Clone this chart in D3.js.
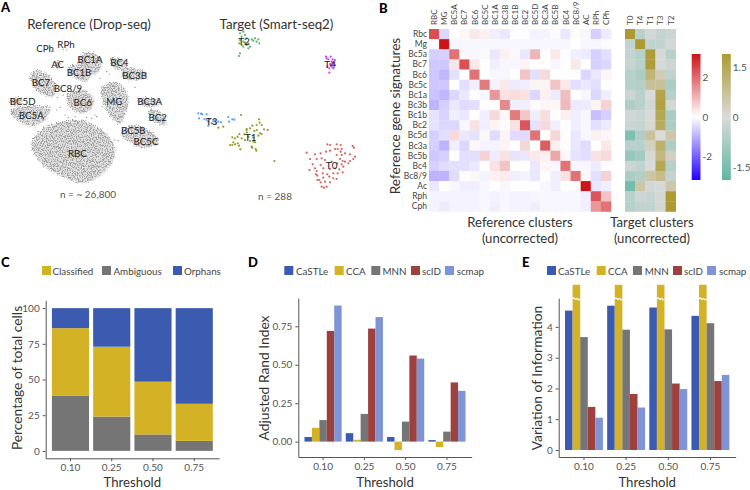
<!DOCTYPE html>
<html>
<head>
<meta charset="utf-8">
<script src="https://cdn.jsdelivr.net/npm/d3@7"></script>
<style>
  body { margin: 0; background: #fff; }
  text { font-family: Lato, "Open Sans", sans-serif; }
  .axis path, .axis line { stroke: #555; }
  .axis text { fill: #555; font-size: 10px; }
</style>
</head>
<body>
<div id="chart"></div>
<script>
// panel C / D / E data
const thresholds = ["0.10", "0.25", "0.50", "0.75"];
const ambiguous = [38.5, 24, 11.5, 7];
const classified = [47.5, 49, 37, 26];
const orphans = [14, 27, 51.5, 67];

const methods = ["CaSTLe", "CCA", "MNN", "scID", "scmap"];
const ariCastle = [0.03, 0.055, 0.03, 0.01];
const ariCca = [0.09, 0.012, -0.055, -0.035];
const ariMnn = [0.14, 0.18, 0.13, 0.065];
const ariScid = [0.72, 0.735, 0.56, 0.385];
const ariScmap = [0.885, 0.81, 0.54, 0.33];

const viCastle = [4.53, 4.69, 4.63, 4.36];
const viCca = [5.37, 5.37, 5.37, 5.37]; // off the axis, bars are cut
const viMnn = [3.67, 3.91, 3.92, 4.12];
const viScid = [1.4, 1.82, 2.16, 2.24];
const viScmap = [1.05, 1.38, 1.98, 2.44];

// panel B data
const refRows = ["Rbc","Mg","Bc5a","Bc7","Bc6","Bc5c","Bc1a","Bc3b","Bc1b","Bc2","Bc5d","Bc3a","Bc5b","Bc4","Bc8/9","Ac","Rph","Cph"];
const refCols = ["RBC","MG","BC5A","BC7","BC6","BC5C","BC1A","BC3B","BC1B","BC2","BC5D","BC3A","BC5B","BC4","BC8/9","AC","RPh","CPh"];
const targetCols = ["T0","T4","T1","T3","T2"];
const refMatrix = [
  [2.4,-.5,.03,.1,.3,.2,-.2,-.3,-.03,-.03,-.15,-.15,.05,-.3,.05,-.1,-.6,-.25],
  [-.05,3.2,-.1,-.1,-.1,-.1,-.1,-.1,-.1,-.1,-.1,-.1,-.1,-.1,0,-.1,-.1,-.05],
  [-.6,-.6,1.9,.1,-.1,.1,-.3,.2,-.08,-.3,1,.02,.3,-.02,-.2,-.25,-.6,-.4],
  [-.7,-.7,.35,2.4,.3,.02,-.2,-.1,-.1,.15,.02,.02,-.1,.02,.3,.02,-.6,-.5],
  [-.7,-.9,-.4,.02,1.9,.02,-.1,-.1,.02,.8,-.4,.5,.02,.02,.02,-.5,-.3,.15],
  [-.7,-.7,.02,-.4,-.2,1.8,-.15,.3,-.25,-.2,.15,.15,.8,.3,-.4,-.3,-.4,.02],
  [-.75,-.9,-.5,-.3,-.03,-.1,1.4,.4,.45,.4,-.5,.2,-.25,.9,.02,-.1,-.5,-.2],
  [-.95,-.6,-.3,-.45,-.4,.02,.02,1.6,-.2,-.2,-.05,.12,.12,.95,-.25,-.25,.15,.6],
  [-.35,-.55,-.2,-.3,.02,-.2,.5,.1,1.8,.75,-.2,.45,.02,.2,-.2,-.1,-.8,-.6],
  [-.35,-.5,-.5,-.1,.4,-.2,.15,.02,.4,2.3,-.35,.5,-.2,.02,-.2,-.1,-.4,-.25],
  [-.6,-.4,.5,-.3,-.35,.1,-.45,.15,-.45,-.45,1.9,.02,.55,.02,-.3,-.1,.2,.12],
  [-.6,-.95,-.2,-.5,.1,-.15,-.15,.15,.02,.55,.02,2.2,.2,.02,-.3,-.45,.02,.3],
  [-.7,-.6,.02,-.4,-.4,.6,-.25,.4,-.35,-.3,.3,.2,1.2,.1,-.35,-.4,.4,.5],
  [-.6,-.45,-.4,-.4,-.3,.02,.4,.8,.02,.02,-.3,.15,-.1,1.9,-.1,-.1,-.25,-.02],
  [-.95,-.95,-.45,.02,.1,-.15,.2,.25,-.2,-.15,-.3,.02,-.2,.4,1.9,.1,-.4,.6],
  [-.3,.02,-.1,-.2,-.2,-.1,.02,-.1,.01,.01,.01,-.1,-.2,.01,.01,3.2,-.3,-.2],
  [-.15,-.15,-.15,-.15,-.15,-.1,-.15,-.1,-.15,-.15,-.12,-.1,-.1,-.1,-.1,-.2,2.3,.8],
  [-.15,-.25,-.15,-.15,-.15,-.1,-.2,-.1,-.15,-.15,-.2,-.1,-.1,-.1,-.1,-.2,1.4,1.9]
];
const targetMatrix = [
  [1.9,-.5,-.1,-.35,-.25],
  [-.4,1.9,-.4,-.4,-.1],
  [-.35,-.55,1.8,-.05,-.5],
  [-.3,-.5,1.8,-.05,-.2],
  [-.55,-.7,1.1,.4,-.4],
  [-.55,-.6,.75,.75,-.7],
  [-.25,-.5,0,1.6,-.55],
  [-.65,-.5,-.1,1.7,-.1],
  [-.15,-.25,-.05,1.5,-.75],
  [-.25,-.3,.1,1.4,-.7],
  [-1.4,-.65,.7,0,.55],
  [-.5,-.55,.3,1.2,-.7],
  [-1.05,-.85,.05,1,.3],
  [-.2,-.4,0,1.5,-.55],
  [-.7,-.6,.6,.9,-.35],
  [-1.6,.6,-.1,-.05,.55],
  [-.5,-.2,-.3,-.1,1.9],
  [-.55,-.4,-.4,-.1,1.9]
];

// panel A, outlines of the dense reference clusters, in units
const blobRBC = [[95,430],[130,385],[190,365],[250,362],[300,385],[335,420],[345,470],[320,510],[280,540],[240,550],[190,530],[140,505],[105,465]];
const blobMG = [[305,265],[325,248],[355,250],[380,275],[385,310],[375,345],[360,372],[335,355],[315,320],[303,290]];
const blobBC6 = [[200,290],[225,270],[260,275],[282,300],[270,330],[240,340],[210,320]];
const blobBC7 = [[90,225],[115,212],[145,225],[170,265],[160,290],[130,285],[100,260]];
const blobBC5A = [[30,330],[70,318],[120,318],[150,325],[140,355],[105,378],[65,370],[40,350]];
const blobBC5D = [[28,300],[50,293],[70,300],[60,315],[35,315]];
const blobBC1A = [[235,175],[265,155],[300,175],[305,200],[280,225],[245,215]];
const blobBC1B = [[205,200],[240,195],[270,225],[260,245],[225,235],[205,220]];
const blobBC4 = [[330,175],[355,175],[385,195],[370,212],[345,205]];
const blobBC3B = [[365,215],[395,205],[440,220],[435,235],[390,240],[370,235]];
const blobBC3A = [[415,298],[450,295],[485,305],[470,318],[430,318]];
const blobBC2 = [[445,335],[470,330],[498,360],[495,375],[465,368]];
const blobBC5BC = [[365,395],[400,375],[470,410],[475,430],[430,445],[395,430],[370,415]];
const blobAC = [[163,190],[178,183],[182,200],[170,208]];
const refBlobs = [blobRBC,blobMG,blobBC6,blobBC7,blobBC5A,blobBC5D,blobBC1A,blobBC1B,blobBC4,blobBC3B,blobBC3A,blobBC2,blobBC5BC,blobAC];
const refStray = [[195,345],[205,352],[218,358],[290,350],[275,355],[170,330],[180,322],[225,350],[320,215],[328,222],[410,240],[150,150],[155,155],[190,148],[200,150],[165,250],[180,270],[190,285],[172,292],[345,420],[355,422],[285,345],[260,352],[405,262],[300,235]];
const refLabels = ["CPh","RPh","AC","BC1A","BC4","BC1B","BC3B","BC7","BC8/9","BC6","MG","BC3A","BC5D","BC5A","BC2","BC5B","BC5C","RBC"];
const refLabelX = [135,198,173,270,358,237,404,123,204,248,343,449,68,94,473,400,438,232];
const refLabelY = [145,133,193,177,187,217,225,246,265,306,302,303,302,344,352,391,423,458];

// panel A, target cells
const cellsT0 = [[412,433],[420,435],[440,433],[452,435],[488,438],[492,443],[350,458],[375,463],[392,460],[408,455],[420,452],[435,447],[443,447],[455,447],[452,455],[360,477],[380,477],[395,475],[405,480],[440,465],[455,465],[465,460],[480,463],[495,470],[490,477],[480,483],[475,490],[368,493],[392,495],[450,477],[458,483],[465,485],[442,490],[358,510],[375,505],[380,513],[400,505],[420,507],[435,505],[448,508],[460,500],[378,523],[382,527],[398,520],[412,523],[430,520],[443,520],[458,517],[388,540],[418,530],[430,535],[440,537],[400,533],[395,560],[402,563],[410,560],[420,547],[392,547],[405,545],[382,540],[455,493],[425,485],[233,390]];
const cellsT1 = [[153,345],[207,358],[209,368],[187,377],[200,375],[215,375],[222,388],[170,390],[180,385],[200,390],[170,397],[193,393],[210,400],[148,402],[163,403],[143,410],[127,412],[135,415],[155,415],[175,410],[190,413],[205,407],[130,427],[143,430],[135,433],[120,435],[127,435],[147,437],[165,420],[180,423],[190,425],[195,427],[185,440],[187,443],[197,447],[199,452],[151,448],[100,380],[85,383],[253,483],[215,402],[170,387]];
const cellsT2 = [[150,100],[160,95],[165,105],[155,110],[170,115],[150,120],[148,130],[160,125],[175,130],[185,118],[195,115],[205,118],[208,130],[200,125],[180,140],[170,135],[160,140],[150,160],[147,168],[175,145],[190,122],[165,128],[155,135]];
const cellsT3 = [[25,340],[33,341],[37,343],[27,355],[50,343],[43,357],[50,360],[60,357],[55,365],[55,377],[70,363],[77,370],[85,365],[93,367],[115,351],[117,365],[127,358],[133,359],[65,370],[75,360]];
const cellsT4 = [[408,170],[422,170],[415,178],[425,185],[435,180],[430,190],[420,192],[435,195],[425,200],[430,205],[418,205],[412,200],[418,218],[410,175],[428,178],[433,188],[422,197],[428,195]];
const targetCells = [cellsT0, cellsT1, cellsT2, cellsT3, cellsT4];
const targetNames = ["T0","T1","T2","T3","T4"];
const targetColors = ["#d9625c","#9a9a1e","#55b56c","#5a9ef5","#c04ae8"];
const targetLabelX = [425,182,162,65,420];
const targetLabelY = [494,412,124,362,192];

const yellow = "#d4b226", grey = "#757575", blue = "#3a5bb0", red = "#9e403d", lightBlue = "#7f94d6";
const methodColors = [blue, yellow, grey, red, lightBlue];

const svg = d3.select("#chart").append("svg").attr("width", 750).attr("height", 490);

// speckle for the dense clouds, edges roughened with the same noise
const defs = svg.append("defs");
const speckle = defs.append("filter").attr("id", "speckle")
  .attr("x", "-5%").attr("y", "-5%").attr("width", "110%").attr("height", "110%");
speckle.append("feTurbulence").attr("type", "fractalNoise").attr("baseFrequency", 0.8)
  .attr("numOctaves", 2).attr("seed", 4).attr("result", "noise");
speckle.append("feDisplacementMap").attr("in", "SourceGraphic").attr("in2", "noise")
  .attr("scale", 7).attr("xChannelSelector", "R").attr("yChannelSelector", "G").attr("result", "rough");
speckle.append("feColorMatrix").attr("in", "noise").attr("type", "matrix")
  .attr("values", "0 0 0 0 0.35  0 0 0 0 0.35  0 0 0 0 0.35  4 4 0 0 -3.7").attr("result", "dots");
speckle.append("feComposite").attr("in", "dots").attr("in2", "rough").attr("operator", "in").attr("result", "clipped");
speckle.append("feMerge").call(m => {
  m.append("feMergeNode").attr("in", "rough");
  m.append("feMergeNode").attr("in", "clipped");
});

function panelLetter(s, x, y) {
  svg.append("text").attr("x", x).attr("y", y).text(s)
    .style("font-size", "13px").style("font-weight", 900).style("fill", "#000");
}
panelLetter("A", 1, 12);
panelLetter("B", 379, 13);
panelLetter("C", 1, 267);
panelLetter("D", 248, 267);
panelLetter("E", 522, 267);

function plainText(s, x, y, size, color) {
  return svg.append("text").attr("x", x).attr("y", y).attr("text-anchor", "middle")
    .attr("dominant-baseline", "central")
    .text(s).style("font-size", size + "px").style("fill", color);
}

// ---- A: reference
const xRef = d3.scaleLinear().domain([0, 570]).range([0, 190]);
const yRef = d3.scaleLinear().domain([0, 630]).range([0, 210]);
const blobLine = d3.line().x(d => xRef(d[0])).y(d => yRef(d[1])).curve(d3.curveCatmullRomClosed);

const cloud = svg.append("g").attr("filter", "url(#speckle)");
cloud.selectAll("path").data(refBlobs).join("path")
  .attr("d", blobLine)
  .attr("fill", "#e2e2e2");
svg.append("g").selectAll("circle").data(refStray).join("circle")
  .attr("cx", d => xRef(d[0])).attr("cy", d => yRef(d[1])).attr("r", 0.6).attr("fill", "#777");

refLabels.forEach((s, i) => plainText(s, xRef(refLabelX[i]), yRef(refLabelY[i]), 9.7, "#222"));
plainText("Reference (Drop-seq)", 89, 24, 13.3, "#333");
plainText("n = ~ 26,800", 88, 194, 10, "#555");

// ---- A: target
const xTarget = d3.scaleLinear().domain([0, 570]).range([190, 380]);
targetCells.forEach((cells, i) => {
  svg.append("g").selectAll("circle").data(cells).join("circle")
    .attr("cx", d => xTarget(d[0])).attr("cy", d => yRef(d[1]))
    .attr("r", 1.1).attr("fill", targetColors[i]);
  plainText(targetNames[i], xTarget(targetLabelX[i]), yRef(targetLabelY[i]), 10, "#222");
});
plainText("Target (Smart-seq2)", 276.5, 24, 13.3, "#333");
plainText("n = 288", 275, 196, 10, "#555");

// ---- B: heatmaps
const refColor = d3.scaleLinear().domain([-3.2, 0, 3.2]).range(["#2200ff", "#ffffff", "#cc1418"]);
const targetColor = d3.scaleLinear().domain([-1.89, 0, 1.89]).range(["#5fb8a2", "#dadada", "#ad9a33"]);

const yHeat = d3.scaleBand().domain(refRows).range([29, 211.5]);
const xHeat = d3.scaleBand().domain(refCols).range([429, 611]);
const xHeatT = d3.scaleBand().domain(targetCols).range([625, 675.7]);

function heatmap(matrix, cols, xs, color) {
  matrix.forEach((row, r) => {
    svg.append("g").selectAll("rect").data(row).join("rect")
      .attr("x", (d, c) => xs(cols[c]))
      .attr("y", yHeat(refRows[r]))
      .attr("width", xs.bandwidth() + 0.3)
      .attr("height", yHeat.bandwidth() + 0.3)
      .attr("fill", d => color(d));
  });
  svg.append("g").selectAll("text").data(cols).join("text")
    .attr("transform", d => "translate(" + (xs(d) + xs.bandwidth() / 2 + 3) + ",25) rotate(-90)")
    .text(d => d).style("font-size", "8px").style("fill", "#444");
}
heatmap(refMatrix, refCols, xHeat, refColor);
heatmap(targetMatrix, targetCols, xHeatT, targetColor);

svg.append("g").selectAll("text").data(refRows).join("text")
  .attr("x", 427).attr("y", d => yHeat(d) + yHeat.bandwidth() / 2)
  .attr("text-anchor", "end").attr("dominant-baseline", "central")
  .text(d => d).style("font-size", "8.5px").style("fill", "#444");

svg.append("text").attr("transform", "translate(395,116) rotate(-90)")
  .attr("text-anchor", "middle").attr("dominant-baseline", "central")
  .text("Reference gene signatures").style("font-size", "13.6px").style("fill", "#333");
plainText("Reference clusters", 520, 222, 13.1, "#333");
plainText("(uncorrected)", 520, 238, 13.1, "#333");
plainText("Target clusters", 652, 222, 13.1, "#333");
plainText("(uncorrected)", 652, 238, 13.1, "#333");

// colour bars
function colorBar(id, color, maxV, x, ticks) {
  const yBar = d3.scaleLinear().domain([-maxV, maxV]).range([180, 54]);
  const grad = defs.append("linearGradient").attr("id", id)
    .attr("x1", 0).attr("y1", 1).attr("x2", 0).attr("y2", 0);
  color.domain().forEach((v, i) => {
    grad.append("stop").attr("offset", (i / 2) * 100 + "%").attr("stop-color", color(v));
  });
  svg.append("rect").attr("x", x).attr("y", 54).attr("width", 8.8).attr("height", 126)
    .attr("fill", "url(#" + id + ")");
  const ax = svg.append("g").attr("class", "axis")
    .attr("transform", "translate(" + (x + 8.8) + ",0)")
    .call(d3.axisRight(yBar).tickValues(ticks).tickSize(0).tickPadding(2).tickFormat(d => String(d)));
  ax.select(".domain").remove();
}
colorBar("barRef", refColor, 3.2, 691.7, [-2, 0, 2]);
colorBar("barTarget", targetColor, 1.89, 722, [-1.5, 0, 1.5]);

// ---- shared for the bar panels
function legend(names, colors, swatchX, textX) {
  names.forEach((s, i) => {
    svg.append("rect").attr("x", swatchX[i]).attr("y", 266).attr("width", 9).attr("height", 9).attr("fill", colors[i]);
    svg.append("text").attr("x", textX[i]).attr("y", 270.5).attr("dominant-baseline", "central")
      .text(s).style("font-size", "9.8px").style("fill", "#444");
  });
}

function axes(x, y, bottom, left, yTicks, fmt, yTitle, titleX) {
  svg.append("g").attr("class", "axis").attr("transform", "translate(0," + bottom + ")")
    .call(d3.axisBottom(x).tickSize(3).tickSizeOuter(0));
  svg.append("g").attr("class", "axis").attr("transform", "translate(" + left + ",0)")
    .call(d3.axisLeft(y).tickValues(yTicks).tickSize(3).tickSizeOuter(0).tickFormat(fmt));
  const r = x.range();
  plainText("Threshold", (r[0] + r[1]) / 2, 482, 13.2, "#333");
  svg.append("text").attr("transform", "translate(" + titleX + ",378) rotate(-90)")
    .attr("text-anchor", "middle").attr("dominant-baseline", "central")
    .text(yTitle).style("font-size", "13.8px").style("fill", "#333");
}

function bandScale(left, right) {
  return d3.scaleBand().domain(thresholds).range([left, right]).paddingInner(0.1).paddingOuter(0.15);
}

// ---- C: stacked
const xC = bandScale(45.7, 219);
const yC = d3.scaleLinear().domain([-5.2, 105.5]).range([458.3, 300.3]);
legend(["Classified", "Ambiguous", "Orphans"], [yellow, grey, blue], [42, 102, 173], [52.5, 113.5, 184]);
const stackRows = thresholds.map((t, i) => ({ t: t, Ambiguous: ambiguous[i], Classified: classified[i], Orphans: orphans[i] }));
const stacked = d3.stack().keys(["Ambiguous", "Classified", "Orphans"])(stackRows);
const stackColors = [grey, yellow, blue];
stacked.forEach((layer, i) => {
  svg.append("g").selectAll("rect").data(layer).join("rect")
    .attr("x", d => xC(d.data.t))
    .attr("width", xC.bandwidth())
    .attr("y", d => yC(d[1]))
    .attr("height", d => yC(d[0]) - yC(d[1]))
    .attr("fill", stackColors[i]);
});
axes(xC, yC, 458.3, 45.7, [0, 25, 50, 75, 100], d3.format("d"), "Percentage of total cells", 16);

// ---- grouped bars
function grouped(series, x, y) {
  const inner = d3.scaleBand().domain(methods).range([0, x.bandwidth()]);
  series.forEach((values, m) => {
    svg.append("g").selectAll("rect").data(values).join("rect")
      .attr("x", (d, i) => x(thresholds[i]) + inner(methods[m]))
      .attr("width", inner.bandwidth())
      .attr("y", d => y(Math.max(0, d)))
      .attr("height", d => Math.abs(y(d) - y(0)))
      .attr("fill", methodColors[m]);
  });
  return inner;
}

// ---- D: ARI
const xD = bandScale(298.3, 471.7);
const yD = d3.scaleLinear().domain([-0.1, 0.934]).range([457, 298]);
legend(methods, methodColors, [284.3, 334.7, 371.3, 411, 445], [296, 346, 382.5, 422, 456.7]);
grouped([ariCastle, ariCca, ariMnn, ariScid, ariScmap], xD, yD);
axes(xD, yD, 457, 298.3, [0, 0.25, 0.5, 0.75], d3.format(".2f"), "Adjusted Rand Index", 263);

// ---- E: VI
const xE = bandScale(558.7, 735.7);
const yE = d3.scaleLinear().domain([-0.228, 4.93]).range([457, 298.3]);
legend(methods, methodColors, [547, 596.7, 633, 673, 707], [558, 608, 644.7, 684, 719]);
const innerE = grouped([viCastle, viCca, viMnn, viScid, viScmap], xE, yE);
axes(xE, yE, 457, 558.7, [0, 1, 2, 3, 4], d3.format("d"), "Variation of Information", 536);

// white squiggle where the CCA bars are cut
const squiggle = d3.line().curve(d3.curveBasis);
thresholds.forEach(t => {
  const x0 = xE(t) + innerE("CCA"), w = innerE.bandwidth(), yCut = yE(4.91);
  svg.append("path")
    .attr("d", squiggle([[x0, yCut], [x0 + w * 0.2, yCut - 2], [x0 + w * 0.4, yCut + 2], [x0 + w * 0.6, yCut - 2], [x0 + w * 0.8, yCut + 2], [x0 + w, yCut]]))
    .attr("fill", "none").attr("stroke", "#fff").attr("stroke-width", 1.2);
});
</script>
</body>
</html>
